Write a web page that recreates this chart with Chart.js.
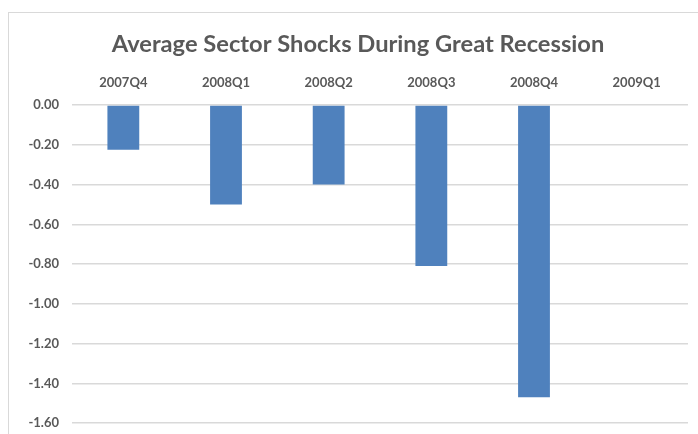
<!DOCTYPE html>
<html>
<head>
<meta charset="utf-8">
<script src="https://cdn.jsdelivr.net/npm/chart.js@4"></script>
<style>
  html, body { margin: 0; padding: 0; background: #fff; overflow: hidden; }
  .frame {
    position: absolute; left: 8px; top: 12px;
    width: 700px; height: 440px;
    border: 1px solid #d9d9d9; box-sizing: border-box;
  }
  .frame canvas { position: absolute; left: 0; top: 0; }
</style>
</head>
<body>
<div class="frame"><canvas id="mainChart" width="698" height="431"></canvas></div>
<script>
// dados
const quarters = ['2007Q4', '2008Q1', '2008Q2', '2008Q3', '2008Q4', '2009Q1'];
const shocks = [-0.225, -0.50, -0.40, -0.81, -1.47, 0];
const yMin = -1.6;
const yMax = 0;
const yStep = 0.2;

const textGray = '#595959';
const font = "Lato, 'Open Sans', sans-serif";

const ctx = document.getElementById('mainChart').getContext('2d');
new Chart(ctx, {
    type: 'bar',
    data: {
        labels: quarters,
        datasets: [{
            label: 'Average Sector Shocks',
            data: shocks,
            backgroundColor: '#4f81bd',
            borderWidth: 0,
            categoryPercentage: 1,
            barPercentage: 0.31
        }]
    },
    options: {
        responsive: false,
        animation: false,
        devicePixelRatio: 1,
        layout: { padding: { left: 19, right: 19, top: 0, bottom: 3 } },
        plugins: {
            legend: { display: false },
            tooltip: { enabled: false },
            title: {
                display: true,
                text: 'Average Sector Shocks During Great Recession',
                color: textGray,
                font: { family: font, size: 23.7, weight: 'bold' },
                padding: { top: 17, bottom: 3 }
            }
        },
        scales: {
            x: {
                position: 'top',
                grid: { display: false, drawTicks: false },
                border: { display: false },
                ticks: {
                    color: textGray,
                    padding: 14,
                    font: { family: font, size: 13, weight: 'bold' }
                }
            },
            y: {
                min: yMin,
                max: yMax,
                grid: { color: '#d9d9d9', lineWidth: 1.5, drawTicks: false },
                border: { display: false },
                afterFit: (scale) => { scale.width = 44; },
                ticks: {
                    stepSize: yStep,
                    color: textGray,
                    padding: 13,
                    font: { family: font, size: 13, weight: 'bold' },
                    callback: (v) => v.toFixed(2)
                }
            }
        }
    }
});
</script>
</body>
</html>
